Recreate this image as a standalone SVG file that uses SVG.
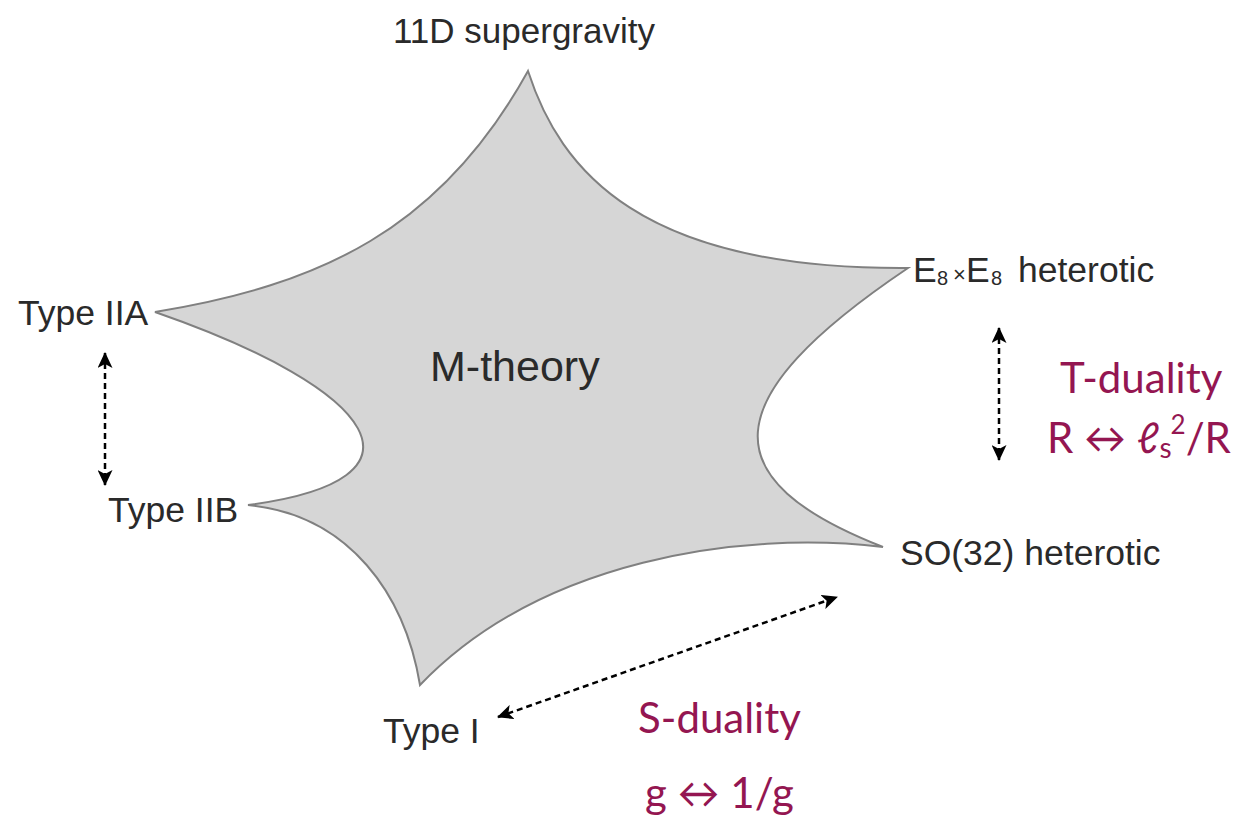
<svg xmlns="http://www.w3.org/2000/svg" width="1235" height="821" viewBox="0 0 1235 821">
<style>
.lbl{font-family:"Liberation Sans",Arial,sans-serif;font-size:35.5px;fill:#2a2a2a}
.dual{font-family:Lato,"DejaVu Sans",sans-serif;font-size:42px;fill:#941651}
.conn{stroke:#000;stroke-width:2.5;stroke-dasharray:6 4;fill:none}
</style>
<defs>
<marker id="ah" viewBox="0 0 16 15" markerUnits="userSpaceOnUse" markerWidth="16" markerHeight="15" refX="15" refY="7.5" orient="auto-start-reverse">
<path d="M0,0 L16,7.5 L0,15 L4,7.5 z" fill="#000"/>
</marker>
</defs>
<rect width="1235" height="821" fill="#fff"/>
<g id="mtheory">
<path d="M528,71 C560,170 640,270 908,268 C712,400 712,480 883,547 C740,530 540,560 420,685 C405,595 350,515 248,505 C440,480 380,390 155,312 C320,285 440,230 528,71 Z" fill="#d6d6d6" stroke="#808080" stroke-width="2" stroke-linejoin="miter"/>
<text class="lbl" x="430" y="381" style="font-size:43px">M-theory</text>
</g>
<g id="sugra"><text class="lbl" x="393" y="43" style="font-size:35px">11D supergravity</text></g>
<g id="e8"><text class="lbl" x="913" y="282">E<tspan x="937" font-size="20" dy="3">8</tspan><tspan x="953" font-size="22" dy="-3">×</tspan><tspan x="966">E</tspan><tspan x="991" font-size="20" dy="3">8</tspan><tspan x="1018" dy="-3">heterotic</tspan></text></g>
<g id="so32"><text class="lbl" x="900" y="565">SO(32) heterotic</text></g>
<g id="typeI"><text class="lbl" x="383" y="743">Type I</text></g>
<g id="typeIIA"><text class="lbl" x="18" y="325">Type IIA</text></g>
<g id="typeIIB"><text class="lbl" x="108" y="522">Type IIB</text></g>
<g id="tdual">
<text class="dual" x="1060" y="393">T-duality</text>
<text class="dual" x="1047" y="453">R ↔ ℓ<tspan font-size="28" dy="5">s</tspan><tspan font-size="26" dy="-24" dx="-1">2</tspan><tspan dy="19">/R</tspan></text>
</g>
<g id="sdual">
<text class="dual" x="638" y="733">S-duality</text>
<text class="dual" x="645" y="808">g ↔ 1/g</text>
</g>
<g id="connectors">
<line class="conn" x1="105" y1="353" x2="105" y2="485" marker-start="url(#ah)" marker-end="url(#ah)"/>
<line class="conn" x1="999" y1="328" x2="999" y2="460" marker-start="url(#ah)" marker-end="url(#ah)"/>
<line class="conn" x1="498" y1="717" x2="837" y2="597" marker-start="url(#ah)" marker-end="url(#ah)"/>
</g>
</svg>
